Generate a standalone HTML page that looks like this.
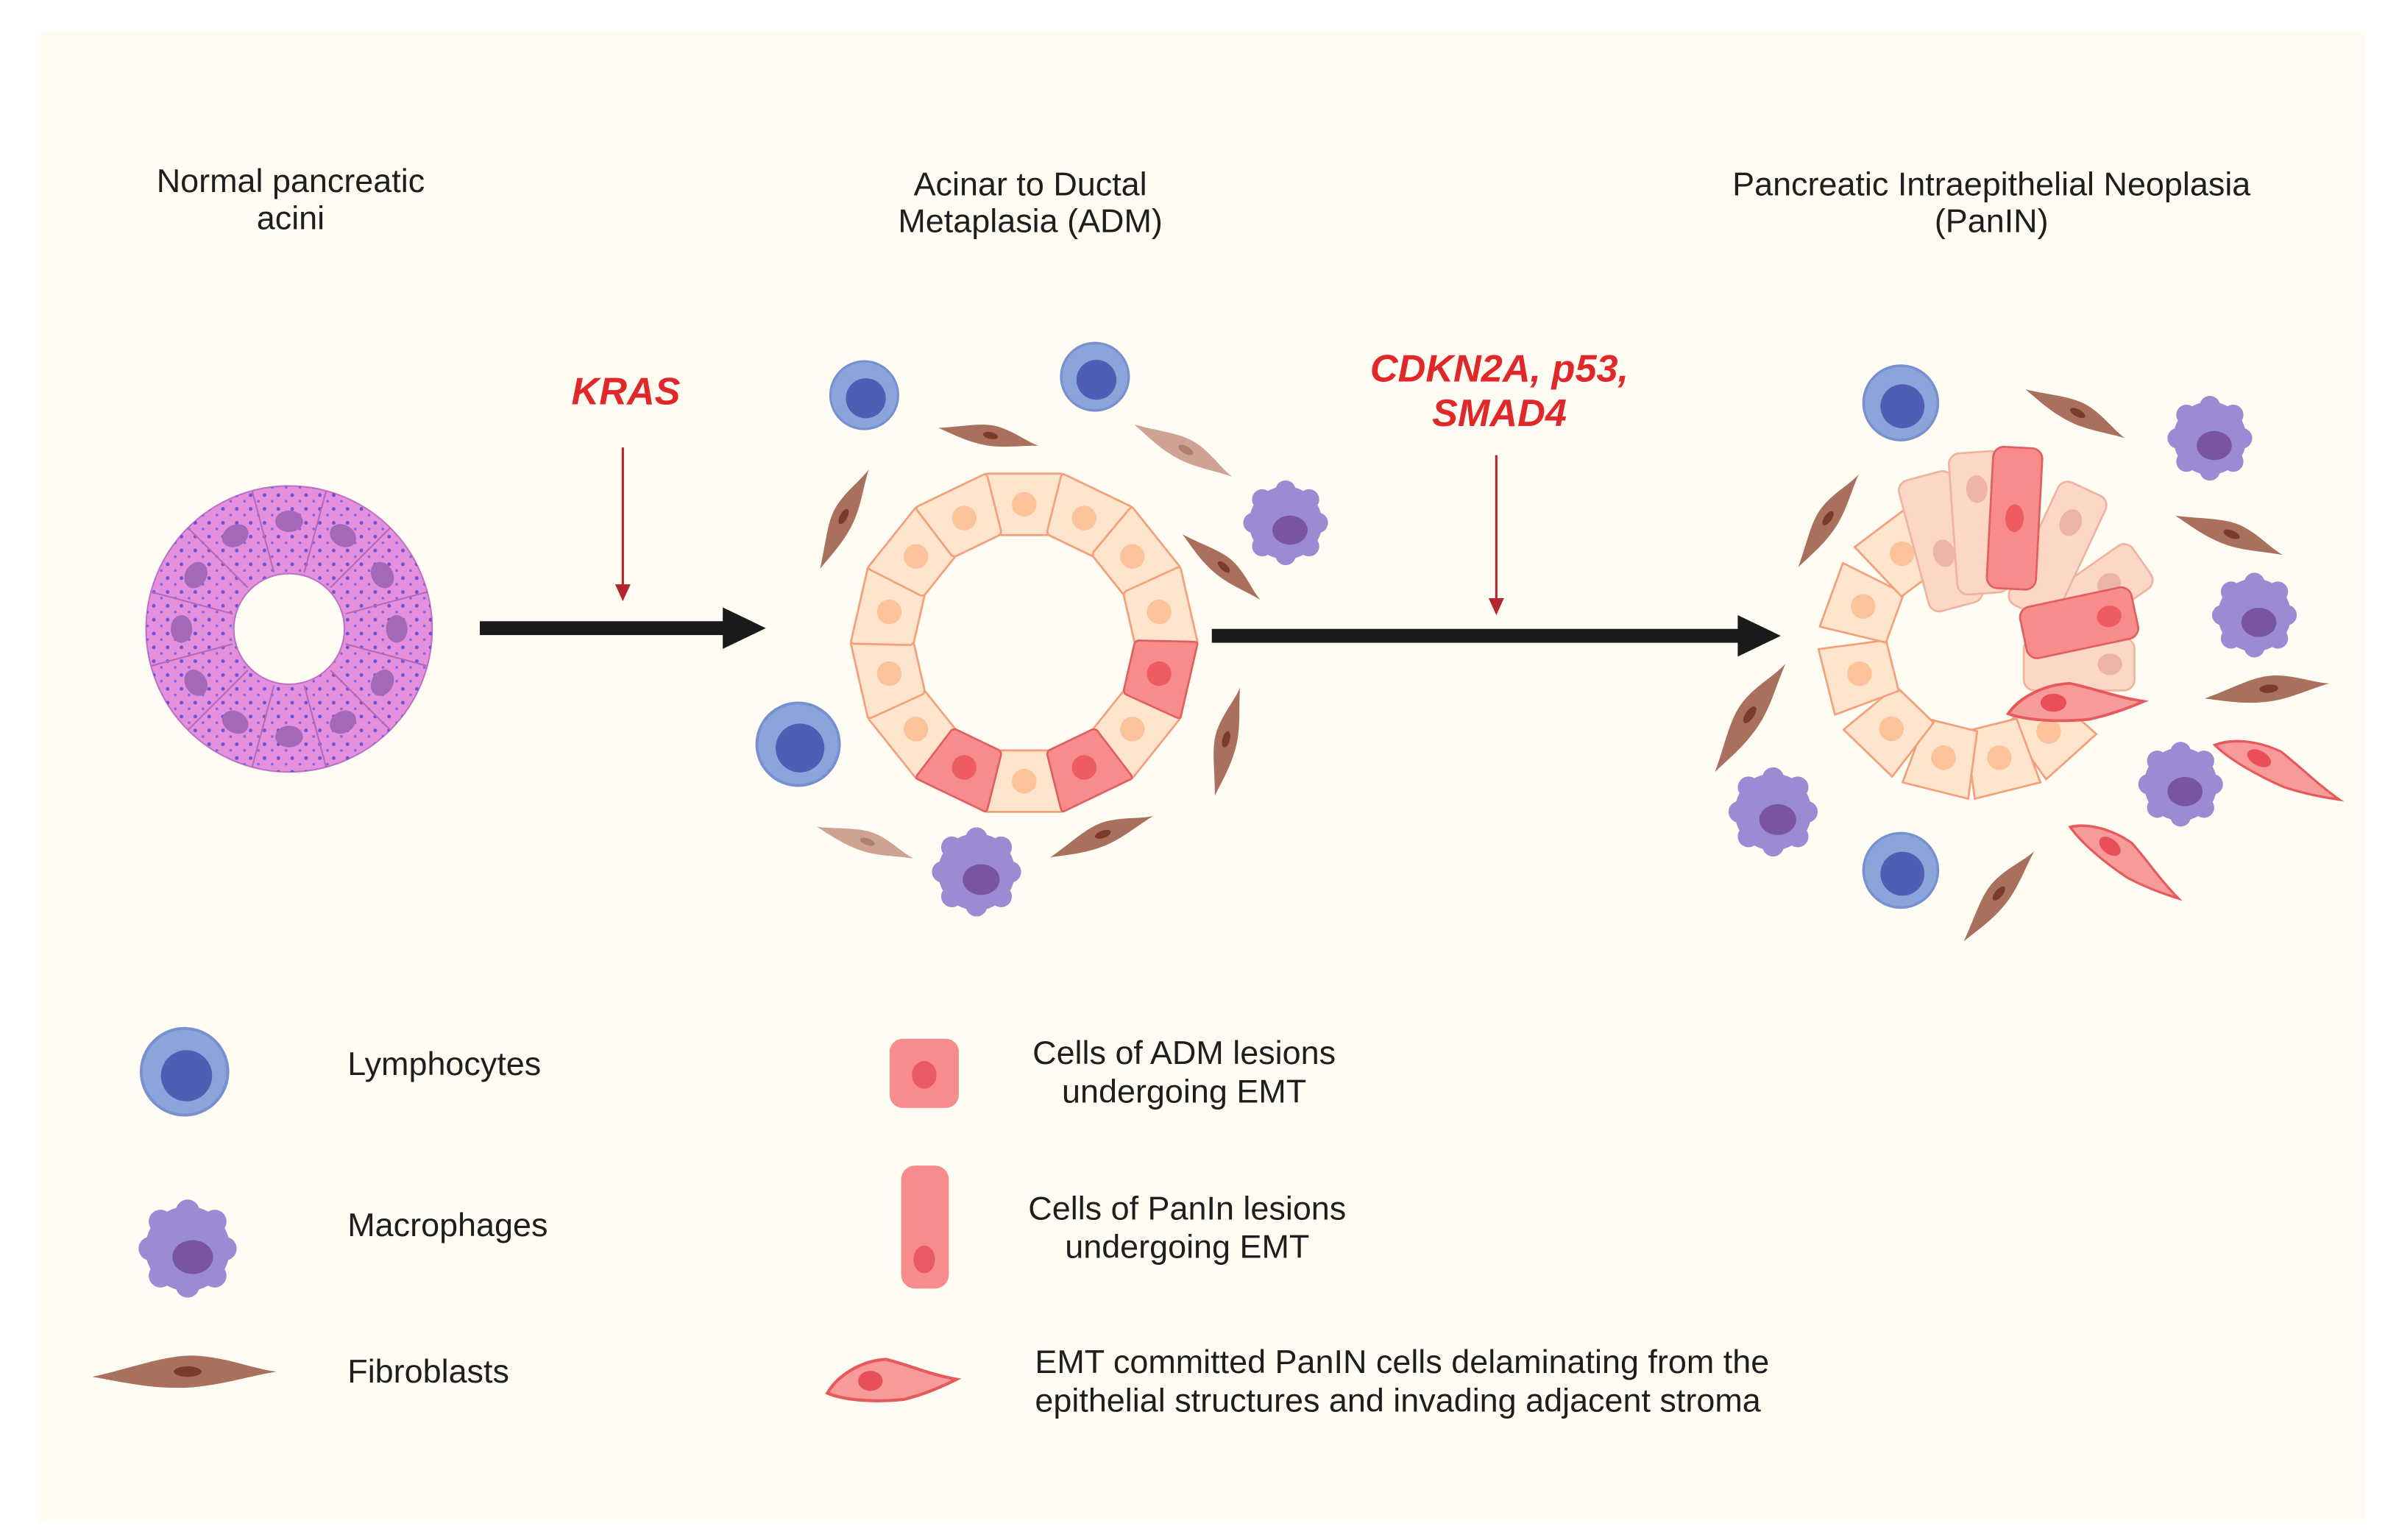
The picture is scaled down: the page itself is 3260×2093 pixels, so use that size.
<!DOCTYPE html>
<html><head><meta charset="utf-8"><style>
html,body{margin:0;padding:0;background:#fff;}
svg{display:block;}
text{font-family:"Liberation Sans",sans-serif;fill:#1e1e1e;}
</style></head><body>
<svg width="3260" height="2093" viewBox="0 0 1560 1001.5" preserveAspectRatio="none" xmlns="http://www.w3.org/2000/svg">
<defs>
<pattern id="dots" width="9" height="9" patternUnits="userSpaceOnUse">
<circle cx="2" cy="3" r="1.2" fill="#4a45d6"/><circle cx="7" cy="7" r="0.9" fill="#6a5ae0"/>
</pattern>
<g id="lym"><circle r="22" fill="#8ba5da" stroke="#7890cf" stroke-width="1.5"/><circle cx="1" cy="2" r="13" fill="#4f5db5"/></g>
<g id="mac"><circle r="25" fill="#9a8bd2"/>
<circle cx="0" cy="-22" r="7" fill="#9a8bd2"/><circle cx="16" cy="-16" r="7" fill="#9a8bd2"/><circle cx="22" cy="0" r="7" fill="#9a8bd2"/><circle cx="16" cy="16" r="7" fill="#9a8bd2"/><circle cx="0" cy="22" r="7" fill="#9a8bd2"/><circle cx="-16" cy="16" r="7" fill="#9a8bd2"/><circle cx="-22" cy="0" r="7" fill="#9a8bd2"/><circle cx="-16" cy="-16" r="7" fill="#9a8bd2"/>
<ellipse cx="3" cy="5" rx="12" ry="10" fill="#7a559f"/></g>
<g id="fib"><path d="M-60,4 C-30,-4 -10,-14 10,-12 C30,-10 45,-2 60,0 C40,4 25,10 5,12 C-20,14 -40,8 -60,4Z" fill="#a8705d"/><ellipse cx="2" cy="0" rx="9" ry="4" fill="#7a3b28"/></g>
<g id="fibl"><path d="M-60,4 C-30,-4 -10,-14 10,-12 C30,-10 45,-2 60,0 C40,4 25,10 5,12 C-20,14 -40,8 -60,4Z" fill="#cfa394"/><ellipse cx="2" cy="0" rx="9" ry="4" fill="#b0806e"/></g>
<g id="emt"><path d="M-42,8 C-35,-4 -20,-13 -4,-14 C12,-10 25,-4 42,-1 C30,5 20,9 8,12 C-10,14 -30,13 -42,8Z" fill="#f79a9a" stroke="#e65a5c" stroke-width="2"/><ellipse cx="-14" cy="0" rx="8" ry="6.5" fill="#e84f58"/></g>
<g id="cell"><path d="M-24,-110 L24,-110 Q26,-110 25,-106 L18,-72 Q17,-70 15,-70 L-15,-70 Q-17,-70 -18,-72 L-25,-106 Q-26,-110 -24,-110Z" fill="#fde4cd" stroke="#f3a07a" stroke-width="1.3" stroke-linejoin="round"/><circle cy="-90" r="8" fill="#fcc39a"/></g>
<g id="rcell"><path d="M-24,-110 L24,-110 Q26,-110 25,-106 L18,-72 Q17,-70 15,-70 L-15,-70 Q-17,-70 -18,-72 L-25,-106 Q-26,-110 -24,-110Z" fill="#f88c8c" stroke="#e0605f" stroke-width="1.3" stroke-linejoin="round"/><circle cy="-90" r="8" fill="#ee5b60"/></g>
<g id="pcell"><path d="M-22,-97 L22,-97 L17,-53 L-17,-53Z" fill="#fde4cd" stroke="#f3a07a" stroke-width="1.3" stroke-linejoin="round"/><circle cy="-75" r="8" fill="#fcc39a"/></g>
</defs>

<rect x="25" y="20" width="1513" height="970" fill="#fefcf3"/>

<!-- titles -->
<g font-size="21.5" text-anchor="middle">
<text x="189" y="125">Normal pancreatic</text><text x="189" y="149">acini</text>
<text x="670" y="127">Acinar to Ductal</text><text x="670" y="151">Metaplasia (ADM)</text>
<text x="1295" y="127">Pancreatic Intraepithelial Neoplasia</text><text x="1295" y="151">(PanIN)</text>
</g>
<g font-size="25" font-weight="bold" font-style="italic" text-anchor="middle">
<text x="407" y="263" style="fill:#e0282a">KRAS</text>
<text x="975" y="248" style="fill:#e0282a">CDKN2A, p53,</text>
<text x="975" y="277" style="fill:#e0282a">SMAD4</text>
</g>

<!-- red arrows -->
<line x1="405" y1="291" x2="405" y2="382" stroke="#b3262e" stroke-width="1.5"/>
<polygon points="400,380 410,380 405,391" fill="#b3262e"/>
<line x1="973" y1="296" x2="973" y2="391" stroke="#b3262e" stroke-width="1.5"/>
<polygon points="968,389 978,389 973,400" fill="#b3262e"/>

<!-- black arrows -->
<rect x="312" y="404" width="160" height="9" fill="#1a1a1a"/>
<polygon points="470,395 498,408.5 470,422" fill="#1a1a1a"/>
<rect x="788" y="409" width="345" height="9" fill="#1a1a1a"/>
<polygon points="1130,400 1158,413.5 1130,427" fill="#1a1a1a"/>

<!-- acini -->
<g transform="translate(188,409)">
<circle r="93" fill="#e590dc" stroke="#c070c8" stroke-width="1"/>
<circle r="93" fill="url(#dots)" opacity="0.8"/>
<g stroke="#b468b8" stroke-width="1">
<line x1="0" y1="-38" x2="0" y2="-93" transform="rotate(15)"/><line x1="0" y1="-38" x2="0" y2="-93" transform="rotate(45)"/><line x1="0" y1="-38" x2="0" y2="-93" transform="rotate(75)"/><line x1="0" y1="-38" x2="0" y2="-93" transform="rotate(105)"/><line x1="0" y1="-38" x2="0" y2="-93" transform="rotate(135)"/><line x1="0" y1="-38" x2="0" y2="-93" transform="rotate(165)"/><line x1="0" y1="-38" x2="0" y2="-93" transform="rotate(195)"/><line x1="0" y1="-38" x2="0" y2="-93" transform="rotate(225)"/><line x1="0" y1="-38" x2="0" y2="-93" transform="rotate(255)"/><line x1="0" y1="-38" x2="0" y2="-93" transform="rotate(285)"/><line x1="0" y1="-38" x2="0" y2="-93" transform="rotate(315)"/><line x1="0" y1="-38" x2="0" y2="-93" transform="rotate(345)"/>
</g>
<g fill="#a468b8">
<ellipse cy="-70" rx="9" ry="7" transform="rotate(0)"/><ellipse cy="-70" rx="9" ry="7" transform="rotate(30)"/><ellipse cy="-70" rx="9" ry="7" transform="rotate(60)"/><ellipse cy="-70" rx="9" ry="7" transform="rotate(90)"/><ellipse cy="-70" rx="9" ry="7" transform="rotate(120)"/><ellipse cy="-70" rx="9" ry="7" transform="rotate(150)"/><ellipse cy="-70" rx="9" ry="7" transform="rotate(180)"/><ellipse cy="-70" rx="9" ry="7" transform="rotate(210)"/><ellipse cy="-70" rx="9" ry="7" transform="rotate(240)"/><ellipse cy="-70" rx="9" ry="7" transform="rotate(270)"/><ellipse cy="-70" rx="9" ry="7" transform="rotate(300)"/><ellipse cy="-70" rx="9" ry="7" transform="rotate(330)"/>
</g>
<circle r="36" fill="#fefcf3" stroke="#c070c8" stroke-width="1"/>
</g>

<!-- ADM ring -->
<g transform="translate(666,418)">
<use href="#cell" transform="rotate(0)"/><use href="#cell" transform="rotate(25.7)"/><use href="#cell" transform="rotate(51.4)"/><use href="#cell" transform="rotate(77.1)"/>
<use href="#cell" transform="rotate(128.6)"/><use href="#cell" transform="rotate(180)"/>
<use href="#cell" transform="rotate(231.4)"/><use href="#cell" transform="rotate(257.1)"/><use href="#cell" transform="rotate(282.9)"/><use href="#cell" transform="rotate(308.6)"/><use href="#cell" transform="rotate(334.3)"/>
<use href="#rcell" transform="rotate(102.9)"/><use href="#rcell" transform="rotate(154.3)"/><use href="#rcell" transform="rotate(205.7)"/>
</g>
<!-- ADM surroundings -->
<use href="#lym" transform="translate(562,257)"/>
<use href="#lym" transform="translate(712,245)"/>
<use href="#lym" transform="translate(519,484) scale(1.22)"/>
<use href="#mac" transform="translate(836,340) scale(0.95)"/>
<use href="#mac" transform="translate(635,567) scale(1)"/>
<use href="#fib" transform="translate(548,337) rotate(-62) scale(0.6)"/>
<use href="#fib" transform="translate(643,283) rotate(12) scale(0.55)"/>
<use href="#fibl" transform="translate(770,292) rotate(30) scale(0.6)"/>
<use href="#fib" transform="translate(795,368) rotate(42) scale(0.55)"/>
<use href="#fib" transform="translate(797,482) rotate(-75) scale(0.6)"/>
<use href="#fibl" transform="translate(563,547) rotate(20) scale(0.55)"/>
<use href="#fib" transform="translate(716,543) rotate(-20) scale(0.6)"/>

<!-- PanIN ring -->
<g transform="translate(1282,420)">
<use href="#pcell" transform="rotate(138)"/><use href="#pcell" transform="rotate(166)"/><use href="#pcell" transform="rotate(194)"/><use href="#pcell" transform="rotate(224)"/><use href="#pcell" transform="rotate(256)"/><use href="#pcell" transform="rotate(290)"/><use href="#pcell" transform="rotate(323)"/>
</g>
<g stroke-width="1.3">
<g transform="translate(1262,352) rotate(-15)"><rect x="-18" y="-44" width="36" height="88" rx="7" fill="#fcd7c6" stroke="#eeb4a0"/><ellipse cy="8" rx="7" ry="9" fill="#ebb4a4"/></g>
<g transform="translate(1287,340) rotate(-4)"><rect x="-17" y="-46" width="34" height="92" rx="7" fill="#fcd7c6" stroke="#eeb4a0"/><ellipse cy="-22" rx="7" ry="9" fill="#ebb4a4"/></g>
<g transform="translate(1360,388) rotate(55)"><rect x="-17" y="-40" width="34" height="80" rx="7" fill="#fcd7c6" stroke="#eeb4a0"/><ellipse cy="-14" rx="7" ry="8" fill="#ebb4a4"/></g>
<g transform="translate(1338,358) rotate(25)"><rect x="-17" y="-44" width="34" height="88" rx="7" fill="#fcd7c6" stroke="#eeb4a0"/><ellipse cy="-20" rx="7" ry="9" fill="#ebb4a4"/></g>
<g transform="translate(1310,337) rotate(3)"><rect x="-16" y="-46" width="32" height="92" rx="7" fill="#f88c8c" stroke="#e0605f"/><ellipse cy="0" rx="6" ry="9" fill="#ee5b60"/></g>
<g transform="translate(1352,432)"><rect x="-36" y="-17" width="72" height="34" rx="7" fill="#fcd7c6" stroke="#eeb4a0"/><ellipse cx="20" rx="8" ry="7" fill="#ebb4a4"/></g>
<g transform="translate(1352,405) rotate(-12)"><rect x="-37" y="-17" width="74" height="34" rx="7" fill="#f88c8c" stroke="#e0605f"/><ellipse cx="20" rx="8" ry="7" fill="#ee5b60"/></g>
</g>
<use href="#emt" transform="translate(1350,457) scale(1.05,0.9)"/>

<!-- PanIN surroundings -->
<use href="#lym" transform="translate(1236,262) scale(1.1)"/>
<use href="#lym" transform="translate(1236,566) scale(1.1)"/>
<use href="#mac" transform="translate(1437,285) scale(0.95)"/>
<use href="#mac" transform="translate(1466,400) scale(0.95)"/>
<use href="#mac" transform="translate(1418,510) scale(0.95)"/>
<use href="#mac" transform="translate(1153,528) scale(1)"/>
<use href="#fib" transform="translate(1350,268) rotate(28) scale(0.6)"/>
<use href="#fib" transform="translate(1188,338) rotate(-55) scale(0.6)"/>
<use href="#fib" transform="translate(1450,347) rotate(22) scale(0.62)"/>
<use href="#fib" transform="translate(1137,466) rotate(-55) scale(0.7)"/>
<use href="#fib" transform="translate(1474,448) rotate(-5) scale(0.68)"/>
<use href="#fib" transform="translate(1299,582) rotate(-50) scale(0.62)"/>
<use href="#emt" transform="translate(1482,500) rotate(28) scale(1.05,0.75)"/>
<use href="#emt" transform="translate(1383,559) rotate(38) scale(1,0.75)"/>

<!-- legend -->
<use href="#lym" transform="translate(120,697) scale(1.28)"/>
<use href="#mac" transform="translate(122,812) scale(1.1)"/>
<use href="#fib" transform="translate(120,892) scale(1,0.85)"/>
<g font-size="21.5">
<text x="226" y="699">Lymphocytes</text>
<text x="226" y="804">Macrophages</text>
<text x="226" y="899">Fibroblasts</text>
</g>
<rect x="579" y="676" width="44" height="44" rx="8" fill="#f88c8c" stroke="#f29090" stroke-width="1"/>
<ellipse cx="601" cy="699" rx="8" ry="9" fill="#ea5a62"/>
<rect x="586" y="758" width="31" height="80" rx="9" fill="#f88c8c"/>
<ellipse cx="601" cy="819" rx="7" ry="9" fill="#ea5a62"/>
<use href="#emt" transform="translate(580,898)"/>
<g font-size="21.5" text-anchor="middle">
<text x="770" y="692">Cells of ADM lesions</text>
<text x="770" y="717">undergoing EMT</text>
<text x="772" y="793">Cells of PanIn lesions</text>
<text x="772" y="818">undergoing EMT</text>
</g>
<g font-size="21.5">
<text x="673" y="893">EMT committed PanIN cells delaminating from the</text>
<text x="673" y="918">epithelial structures and invading adjacent stroma</text>
</g>
</svg>
</body></html>
